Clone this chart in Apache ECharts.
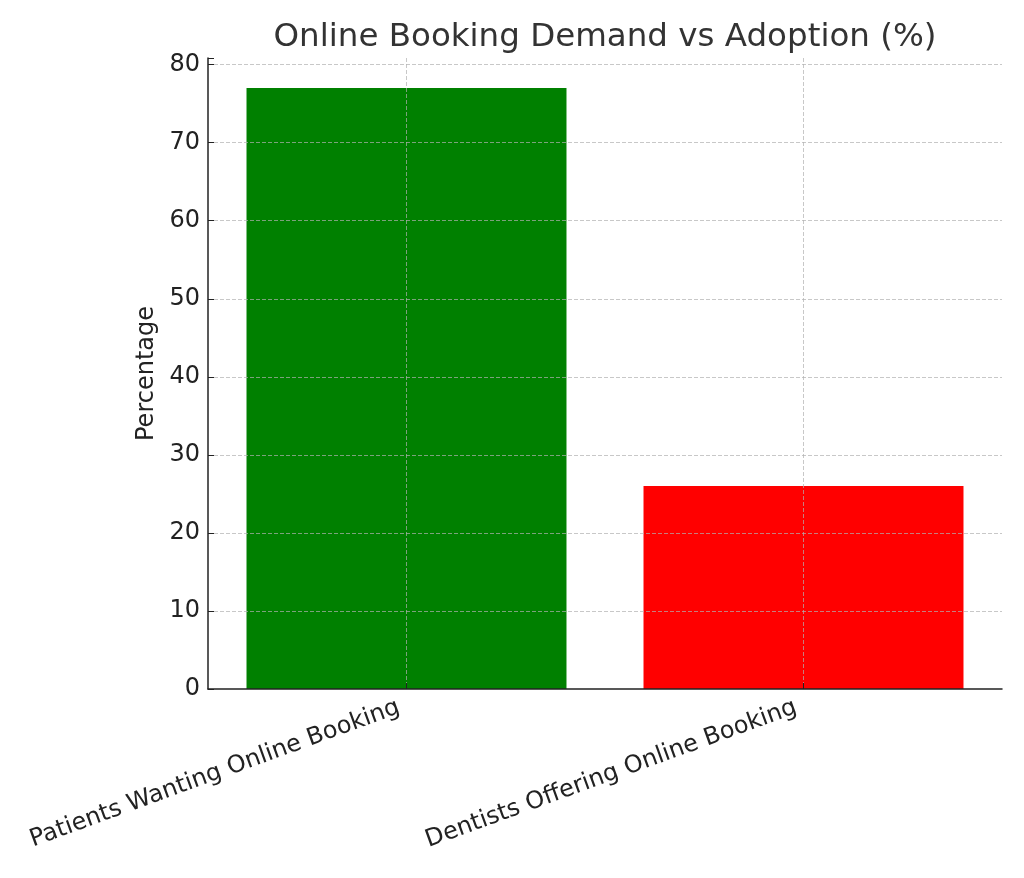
<!DOCTYPE html>
<html>
<head>
<meta charset="utf-8">
<script src="https://cdn.jsdelivr.net/npm/echarts@6/dist/echarts.min.js"></script>
<style>
  html, body { margin: 0; padding: 0; background: #fff; }
  #chart { width: 1024px; height: 878px; }
</style>
</head>
<body>
<div id="chart"></div>
<script>
// data
var categories = ['Patients Wanting Online Booking', 'Dentists Offering Online Booking'];
var values = [77, 26];
var barColors = ['#008000', '#ff0000'];

var chart = echarts.init(document.getElementById('chart'));
var font = 'DejaVu Sans';

var option = {
    animation: false,
    textStyle: { fontFamily: font },
    title: {
        text: 'Online Booking Demand vs Adoption (%)',
        left: 600,
        top: 16,
        textAlign: 'center',
        textStyle: { fontFamily: font, fontSize: 32.5, fontWeight: 'normal', color: '#333' }
    },
    grid: { left: 208, right: 22, top: 58, bottom: 189, containLabel: false },
    xAxis: {
        type: 'category',
        data: categories,
        z: 3,
        axisLine: { lineStyle: { color: '#222', width: 1.5 } },
        axisTick: { show: true, inside: true, alignWithLabel: true, length: 6, lineStyle: { color: '#222' } },
        axisLabel: {
            rotate: 20, fontSize: 24, color: '#222', margin: 15,
            padding: [0, 8, 0, 0],
            interval: 0
        },
        splitLine: { show: true, alignWithLabel: true, lineStyle: { type: 'dashed', color: 'rgba(176,176,176,0.7)' } }
    },
    yAxis: {
        type: 'value',
        min: 0,
        max: 80.85,
        interval: 10,
        z: 3,
        name: 'Percentage',
        nameLocation: 'middle',
        nameGap: 42,
        nameTextStyle: { fontSize: 24, color: '#222' },
        axisLine: { show: true, lineStyle: { color: '#222', width: 1.5 } },
        axisTick: { show: true, inside: true, length: 6, lineStyle: { color: '#222' } },
        axisLabel: {
            fontSize: 24, color: '#222', margin: 8,
            formatter: function (v) { return v % 10 === 0 ? v : ''; }
        },
        splitLine: { show: true, showMaxLine: false, showMinLine: false, lineStyle: { type: 'dashed', color: 'rgba(176,176,176,0.7)' } }
    },
    series: [{
        type: 'bar',
        barWidth: '80.6%',
        data: values.map(function (v, i) {
            return { value: v, itemStyle: { color: barColors[i] } };
        })
    }]
};
chart.setOption(option);
</script>
</body>
</html>
